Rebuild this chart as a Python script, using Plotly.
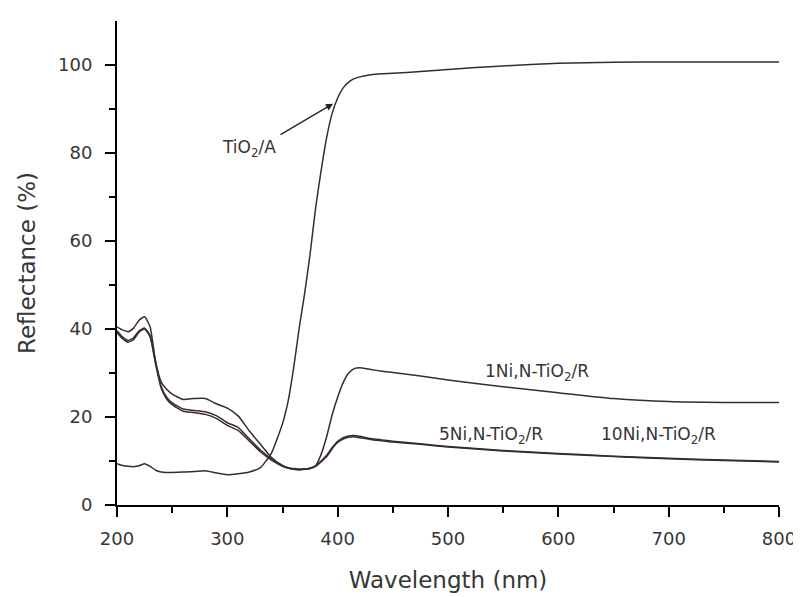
import plotly.graph_objects as go

wavelength = [200, 205, 210, 215, 220, 225, 230, 235, 240, 245, 250, 260, 270, 280, 290,
              300, 310, 320, 330, 340, 350, 355, 360, 365, 370, 375, 380, 385, 390, 395,
              400, 405, 410, 415, 420, 430, 440, 450, 475, 500, 550, 600, 650, 700, 750, 800]

tio2_a = [9.4, 9.0, 8.8, 8.7, 8.9, 9.4, 8.8, 7.9, 7.5, 7.4, 7.4, 7.5, 7.6, 7.8, 7.3,
          6.9, 7.1, 7.5, 8.5, 11.8, 18.5, 23.5, 31.0, 40.0, 48.0, 57.0, 67.5, 76.0, 83.5, 89.0,
          92.5, 94.8, 96.1, 96.9, 97.3, 97.8, 98.0, 98.1, 98.5, 99.0, 99.8, 100.4, 100.6, 100.7, 100.7, 100.7]

ni1 = [40.5, 39.8, 39.4, 40.2, 42.0, 42.8, 40.5, 32.5, 28.0, 26.3, 25.2, 24.0, 24.2, 24.2, 23.0,
       22.0, 20.2, 16.8, 13.8, 10.8, 9.0, 8.5, 8.3, 8.2, 8.2, 8.3, 8.9, 11.5, 15.5, 20.5,
       24.5, 27.8, 30.0, 31.0, 31.2, 30.8, 30.4, 30.1, 29.3, 28.4, 26.9, 25.5, 24.2, 23.5, 23.3, 23.3]

ni5 = [39.6, 38.2, 37.4, 38.0, 39.6, 40.2, 38.5, 32.5, 27.0, 24.5, 23.2, 21.8, 21.5, 21.2, 20.3,
       18.7, 17.6, 15.0, 12.5, 10.5, 8.9, 8.4, 8.1, 8.0, 8.1, 8.3, 8.8, 9.8, 11.0, 12.8,
       14.2, 15.0, 15.4, 15.5, 15.3, 14.9, 14.6, 14.3, 13.8, 13.2, 12.3, 11.6, 11.0, 10.5, 10.1, 9.8]

ni10 = [39.2, 37.8, 37.0, 37.6, 39.3, 40.0, 38.2, 32.0, 26.6, 24.1, 22.8, 21.3, 21.0, 20.6, 19.7,
        18.1, 16.9, 14.5, 12.1, 10.2, 8.8, 8.4, 8.1, 8.0, 8.1, 8.4, 8.9, 10.0, 11.3, 13.1,
        14.5, 15.3, 15.7, 15.8, 15.6, 15.1, 14.8, 14.5, 13.9, 13.3, 12.4, 11.7, 11.1, 10.6, 10.2, 9.9]

series = [("TiO2/A", tio2_a), ("1Ni,N-TiO2/R", ni1), ("5Ni,N-TiO2/R", ni5), ("10Ni,N-TiO2/R", ni10)]

FONT = "DejaVu Sans"
LINE = "#3a2c2c"
TXT = "#363636"

fig = go.Figure()
for name, vals in series:
    fig.add_trace(go.Scatter(x=wavelength, y=vals, mode="lines", name=name,
                             line=dict(color=LINE, width=1.5, shape="spline", smoothing=0.5)))

labels = [
    ("TiO<sub>2</sub>/A", 319.6, 81.0),
    ("1Ni,N-TiO<sub>2</sub>/R", 580.7, 30.1),
    ("5Ni,N-TiO<sub>2</sub>/R", 539.0, 15.8),
    ("10Ni,N-TiO<sub>2</sub>/R", 691.0, 15.8),
]
for txt, lx, ly in labels:
    fig.add_annotation(x=lx, y=ly, text=txt, showarrow=False,
                       font=dict(family=FONT, size=17, color=TXT))

fig.add_annotation(x=395.8, y=91.2, ax=345, ay=83.7, axref="x", ayref="y",
                   text=" ", showarrow=True, arrowhead=2, arrowsize=1.1,
                   arrowwidth=1.3, arrowcolor="#222", standoff=0, startstandoff=0)

axis_common = dict(showline=True, linecolor="black", linewidth=2, ticks="outside",
                   ticklen=10, tickwidth=2, tickcolor="black", showgrid=False,
                   zeroline=False, mirror=False, automargin=False,
                   tickfont=dict(family=FONT, size=18, color=TXT))

fig.update_xaxes(range=[200, 800], dtick=100, tick0=200, ticklabelstandoff=6,
                 minor=dict(ticks="outside", ticklen=6, tickwidth=1.5, tickcolor="black", dtick=50),
                 title=dict(text="Wavelength (nm)", font=dict(family=FONT, size=23, color=TXT), standoff=24),
                 **axis_common)
fig.update_yaxes(range=[0, 110], tickvals=[0, 20, 40, 60, 80, 100], ticklabelstandoff=9,
                 minor=dict(ticks="outside", ticklen=6, tickwidth=1.5, tickcolor="black",
                            tickvals=[10, 30, 50, 70, 90]),
                 title=dict(text="Reflectance (%)", font=dict(family=FONT, size=23, color=TXT), standoff=16),
                 **axis_common)

fig.update_layout(width=801, height=597, showlegend=False,
                  margin=dict(l=109, r=30, t=13, b=100),
                  plot_bgcolor="white", paper_bgcolor="white",
                  font=dict(family=FONT, color=TXT))

fig.write_html("out.html")
